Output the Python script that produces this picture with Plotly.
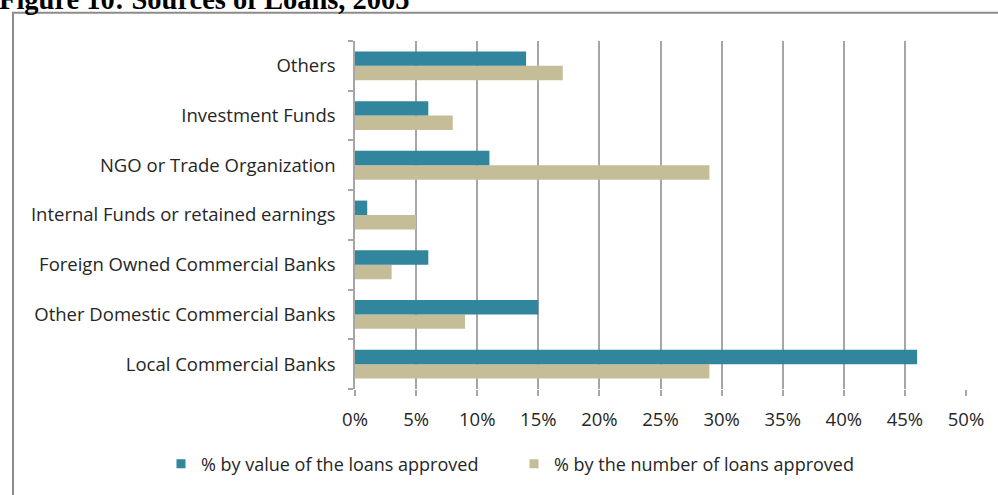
import plotly.graph_objects as go

# Loan sources, listed bottom-to-top as drawn on the category axis
sources = [
    "Local Commercial Banks",
    "Other Domestic Commercial Banks",
    "Foreign Owned Commercial Banks",
    "Internal Funds or retained earnings",
    "NGO or Trade Organization",
    "Investment Funds",
    "Others",
]
pct_by_value = [0.46, 0.15, 0.06, 0.01, 0.11, 0.06, 0.14]
pct_by_number = [0.29, 0.09, 0.03, 0.05, 0.29, 0.08, 0.17]

x_ticks = [i * 0.05 for i in range(11)]

NAME_VALUE = "% by value of the loans approved"
NAME_NUMBER = "% by the number of loans approved"

TEAL = "#31859C"
TAN = "#C4BD97"
GRID = "#A6A6A6"
TEXT = "#262626"
FONT = "Open Sans"
FS = 18.5

L, R, T, B = 355, 32, 41, 104
W, H = 998, 495
pw, ph = W - L - R, H - T - B


def px_x(p):
    return (p - L) / pw


def px_y(p):
    return 1 - (p - T) / ph


fig = go.Figure()
# number series first so that it sits below the value series in each group
fig.add_trace(go.Bar(
    y=sources, x=pct_by_number, orientation="h", name=NAME_NUMBER,
    marker=dict(color=TAN, line=dict(width=0)), showlegend=False,
))
fig.add_trace(go.Bar(
    y=sources, x=pct_by_value, orientation="h", name=NAME_VALUE,
    marker=dict(color=TEAL, line=dict(width=0)), showlegend=False,
))

# small square keys for the two legend entries
for name, color, leg in [(NAME_VALUE, TEAL, "legend"), (NAME_NUMBER, TAN, "legend2")]:
    fig.add_trace(go.Scatter(
        x=[None], y=[None], mode="markers", name=name, legend=leg,
        marker=dict(symbol="square", size=9, color=color),
        hoverinfo="skip",
    ))

legend_common = dict(
    orientation="h", yanchor="middle", y=px_y(466.5), xanchor="left",
    font=dict(family=FONT, size=18, color=TEXT),
    bgcolor="rgba(0,0,0,0)", itemwidth=30, borderwidth=0,
)

fig.update_layout(
    width=W, height=H,
    margin=dict(l=L, r=R, t=T, b=B),
    paper_bgcolor="white", plot_bgcolor="white",
    barmode="group", bargap=0.42, bargroupgap=0,
    font=dict(family=FONT, size=FS, color=TEXT),
    showlegend=True,
    legend=dict(x=px_x(161), **legend_common),
    legend2=dict(x=px_x(514), **legend_common),
    xaxis=dict(
        range=[0, 0.5], tickvals=x_ticks, tickformat=".0%",
        showgrid=True, gridcolor=GRID, gridwidth=1.5,
        ticks="outside", ticklen=6, tickcolor=GRID, tickwidth=1.5,
        showline=False, zeroline=False, ticklabelstandoff=8,
        tickfont=dict(family=FONT, size=FS, color=TEXT),
        fixedrange=True,
    ),
    yaxis=dict(
        categoryorder="array", categoryarray=sources,
        tickson="boundaries", ticks="outside", ticklen=5,
        tickcolor=GRID, tickwidth=1.5,
        showline=True, linecolor=GRID, linewidth=1.5,
        showgrid=False, zeroline=False,
        ticklabelstandoff=14,
        tickfont=dict(family=FONT, size=FS, color=TEXT),
        fixedrange=True,
    ),
    shapes=[dict(
        type="rect", xref="paper", yref="paper",
        x0=px_x(13), x1=px_x(1010), y0=px_y(510), y1=px_y(12.5),
        line=dict(color="#8C8C8C", width=2), fillcolor="rgba(0,0,0,0)",
        layer="below",
    )],
    annotations=[dict(
        text="<b>Figure 10: Sources of Loans, 2005</b>",
        xref="paper", yref="paper", x=px_x(-3), y=px_y(-1), xanchor="left",
        yanchor="middle", showarrow=False,
        font=dict(family="Liberation Serif", size=28.5, color="black"),
    )],
)

fig.write_html("out.html")
